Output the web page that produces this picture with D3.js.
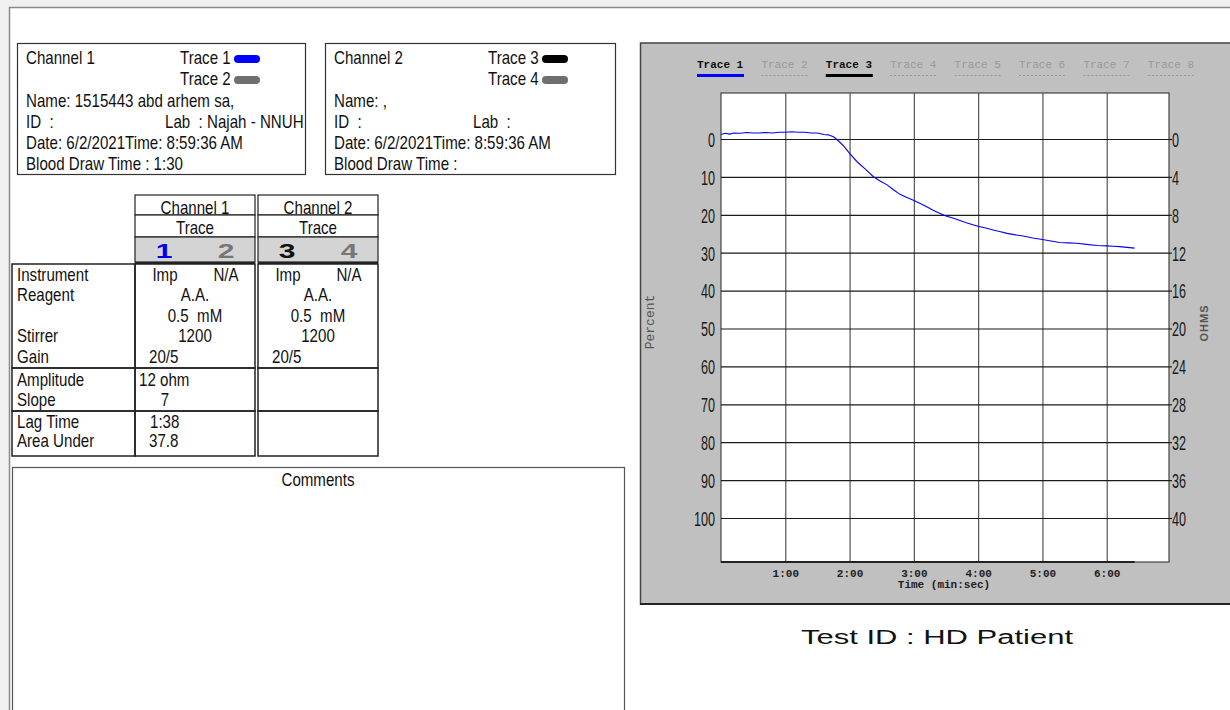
<!DOCTYPE html>
<head>
  <meta charset="utf-8">
  <title>Aggregation report</title>
  <script src="https://d3js.org/d3.v7.min.js"></script>
  <style>
    body { margin: 0; background: #f0f0f0; overflow: hidden; }
    text { font-family: "Liberation Sans", Arial, sans-serif; white-space: pre; }
    .mono { font-family: "Liberation Mono", "Courier New", monospace; }
  </style>
</head>
<body>
  <svg id="main-svg"></svg>
  <script type="text/javascript">
    // ---- data ----
    var ch1Info = ["Name: 1515443 abd arhem sa,", "ID  :", "Date: 6/2/2021Time: 8:59:36 AM", "Blood Draw Time : 1:30"];
    var ch1Lab = "Lab  : Najah - NNUH";
    var ch2Info = ["Name: ,", "ID  :", "Date: 6/2/2021Time: 8:59:36 AM", "Blood Draw Time :"];
    var ch2Lab = "Lab  :";

    var traceNames = ["Trace 1", "Trace 2", "Trace 3", "Trace 4", "Trace 5", "Trace 6", "Trace 7", "Trace 8"];
    var traceActive = [true, false, true, false, false, false, false, false];
    var traceColors = ["#0000ff", "#6e6e6e", "#000000", "#6e6e6e"];

    var rowLabels = ["Instrument", "Reagent", "", "Stirrer", "Gain", "Amplitude", "Slope", "Lag Time", "Area Under"];
    var ch1Values = [["Imp", "N/A"], "A.A.", "0.5  mM", "1200", "20/5", "12 ohm", "7", "1:38", "37.8"];
    var ch2Values = [["Imp", "N/A"], "A.A.", "0.5  mM", "1200", "20/5", "", "", "", ""];

    var percentTicks = [0, 10, 20, 30, 40, 50, 60, 70, 80, 90, 100];
    var ohmTicks = [0, 4, 8, 12, 16, 20, 24, 28, 32, 36, 40];
    var timeTicks = [60, 120, 180, 240, 300, 360];

    // trace 1, time in seconds / aggregation percent
    var traceTime = [0, 4, 8, 12, 18, 24, 30, 36, 42, 48, 54, 60, 66, 72, 78, 84, 90, 96, 100, 105,
      110, 115, 120, 127, 135, 142, 148, 155, 161, 167, 173, 179, 186, 192, 198, 204, 210, 217, 223,
      229, 235, 240, 247, 254, 260, 267, 275, 282, 291, 300, 308, 316, 324, 332, 341, 351, 360, 366,
      372, 379, 386];
    var tracePct = [-1.2, -1.5, -1.3, -1.6, -1.5, -1.7, -1.6, -1.6, -1.7, -1.6, -1.8, -1.8, -1.9, -1.8,
      -1.8, -1.6, -1.6, -1.2, -1.1, -0.6, 0.6, 2.0, 3.8, 6.0, 8.0, 9.9, 11.0, 12.1, 13.4, 14.6, 15.4,
      16.1, 17.0, 17.9, 18.8, 19.6, 20.3, 20.9, 21.5, 22.1, 22.6, 23.0, 23.5, 24.0, 24.4, 24.9, 25.3,
      25.6, 26.1, 26.5, 26.9, 27.3, 27.4, 27.5, 27.8, 28.1, 28.2, 28.3, 28.4, 28.6, 28.8];

    var testId = "Test ID : HD Patient";

    // ---- layout ----
    const svg_width = 1230;
    const svg_height = 710;
    var SX = 0.84; // the report font is condensed

    var svg = d3.select("#main-svg")
      .attr("width", svg_width)
      .attr("height", svg_height);

    function label(g, s, x, y, o) {
      o = o || {};
      var t = g.append("text")
        .attr("transform", "translate(" + x + "," + y + ") scale(" + (o.sx || SX) + ",1)")
        .attr("text-anchor", o.anchor || "start")
        .style("font-size", (o.size || 18) + "px")
        .attr("fill", o.fill || "#111")
        .text(s);
      if (o.weight) t.style("font-weight", o.weight);
      return t;
    }

    // white page
    svg.append("rect").attr("x", 10).attr("y", 7).attr("width", 1230).attr("height", 710)
      .attr("fill", "#fff");
    svg.append("path").attr("d", "M9.5,720V7.5H1240").attr("fill", "none")
      .attr("stroke", "#8a8a8a").attr("stroke-width", 1.5);

    // ---- channel info boxes ----
    function infoBox(x0, w, title, tr, lines, lab) {
      var g = svg.append("g");
      g.append("rect").attr("x", x0 + 0.5).attr("y", 43.5).attr("width", w).attr("height", 131)
        .attr("fill", "#fff").attr("stroke", "#333").attr("stroke-width", 1.2);
      label(g, title, x0 + 9, 64);
      tr.forEach(function(t, i) {
        label(g, traceNames[t], x0 + 163, 64 + i * 21);
        g.append("rect").attr("x", x0 + 217).attr("y", 55 + i * 21).attr("width", 26).attr("height", 8)
          .attr("rx", 4).attr("fill", traceColors[t]);
      });
      lines.forEach(function(s, i) {
        label(g, s, x0 + 9, 106.5 + i * 21.2);
      });
      label(g, lab, x0 + 148, 106.5 + 21.2);
    }
    infoBox(17, 288, "Channel 1", [0, 1], ch1Info, ch1Lab);
    infoBox(325, 290, "Channel 2", [2, 3], ch2Info, ch2Lab);

    // ---- parameter table ----
    var tbl = svg.append("g");
    var cols = [135, 258];
    var colW = 120;
    var rowY = [281, 301, 322, 342, 363, 386, 406, 428, 447];
    var sections = [264, 368, 411, 456];

    cols.forEach(function(cx, c) {
      tbl.append("rect").attr("x", cx).attr("y", 195).attr("width", colW).attr("height", 20)
        .attr("fill", "#fff").attr("stroke", "#222").attr("stroke-width", 1.2);
      tbl.append("rect").attr("x", cx).attr("y", 215).attr("width", colW).attr("height", 22)
        .attr("fill", "#fff").attr("stroke", "#222").attr("stroke-width", 1.2);
      tbl.append("rect").attr("x", cx).attr("y", 237).attr("width", colW).attr("height", 25)
        .attr("fill", "#d4d4d4").attr("stroke", "#222").attr("stroke-width", 1.2);
      tbl.append("line").attr("x1", cx).attr("x2", cx + colW).attr("y1", 263).attr("y2", 263)
        .attr("stroke", "#222").attr("stroke-width", 2);
      label(tbl, "Channel " + (c + 1), cx + 60, 214, { anchor: "middle" });
      label(tbl, "Trace", cx + 60, 234, { anchor: "middle" });
      [0, 1].forEach(function(k) {
        var t = c * 2 + k;
        label(tbl, String(t + 1), cx + 29 + k * 62, 258, {
          anchor: "middle", size: 20, weight: "bold", sx: 1.5,
          fill: t === 0 ? "#0000ee" : (t === 2 ? "#111" : "#777")
        });
      });
    });

    // body boxes
    [[12, 123]].concat(cols.map(function(c) { return [c, colW]; })).forEach(function(b) {
      for (var s = 0; s < sections.length - 1; s++) {
        tbl.append("rect").attr("x", b[0]).attr("y", sections[s]).attr("width", b[1])
          .attr("height", sections[s + 1] - sections[s])
          .attr("fill", "none").attr("stroke", "#222").attr("stroke-width", 1.5);
      }
    });

    rowLabels.forEach(function(s, i) {
      label(tbl, s, 17, rowY[i]);
    });

    // value placement per row: [offset from column left, anchor]
    var valuePos = [null, [60, "middle"], [60, "middle"], [60, "middle"], [14, "start"],
      [4, "start"], [30, "middle"], [15, "start"], [14, "start"]];
    [ch1Values, ch2Values].forEach(function(vals, c) {
      var cx = cols[c];
      vals.forEach(function(v, i) {
        if (i === 0) {
          label(tbl, v[0], cx + 30, rowY[i], { anchor: "middle" });
          label(tbl, v[1], cx + 91, rowY[i], { anchor: "middle" });
        } else if (v !== "") {
          label(tbl, v, cx + valuePos[i][0], rowY[i], { anchor: valuePos[i][1] });
        }
      });
    });

    // comments box
    svg.append("rect").attr("x", 12.5).attr("y", 467.5).attr("width", 612).attr("height", 260)
      .attr("fill", "#fff").attr("stroke", "#555").attr("stroke-width", 1.2);
    label(svg, "Comments", 318, 486, { anchor: "middle" });

    // ---- aggregation chart ----
    var panel = svg.append("g");
    panel.append("rect").attr("x", 640.5).attr("y", 43).attr("width", 620).attr("height", 561)
      .attr("fill", "#c0c0c0").attr("stroke", "#444").attr("stroke-width", 1.5);
    panel.append("line").attr("x1", 640).attr("x2", 1230).attr("y1", 604).attr("y2", 604)
      .attr("stroke", "#222").attr("stroke-width", 2);

    var plot = { left: 721, right: 1169, top: 93, bottom: 562 };

    var x = d3.scaleLinear().domain([0, 420]).range([plot.left, 1171]);
    var y = d3.scaleLinear().domain([0, 100]).range([139, 518]);
    var yOhm = d3.scaleLinear().domain([0, 40]).range([139, 518]);

    panel.append("rect").attr("x", plot.left).attr("y", plot.top)
      .attr("width", plot.right - plot.left).attr("height", plot.bottom - plot.top)
      .attr("fill", "#fff").attr("stroke", "#444").attr("stroke-width", 1.2);

    function fmtTime(s) {
      return Math.floor(s / 60) + ":" + d3.format("02d")(s % 60);
    }

    // vertical grid + time labels
    var xAxis = d3.axisBottom(x).tickValues(timeTicks).tickSize(-(plot.bottom - plot.top))
      .tickFormat(fmtTime);
    var gx = panel.append("g").attr("transform", "translate(0," + plot.bottom + ")").call(xAxis);
    gx.select(".domain").remove();
    gx.selectAll(".tick line").attr("stroke", "#555").attr("stroke-width", 1.2);
    gx.selectAll(".tick text").attr("class", "mono").attr("y", 15).attr("dy", 0)
      .style("font-size", "11px").style("font-weight", "bold").attr("fill", "#222");

    // horizontal grid + percent labels
    var yAxis = d3.axisLeft(y).tickValues(percentTicks).tickSize(-(plot.right - plot.left));
    var gy = panel.append("g").attr("transform", "translate(" + plot.left + ",0)").call(yAxis);
    gy.select(".domain").remove();
    gy.selectAll(".tick line").attr("stroke", "#1a1a1a").attr("stroke-width", 1.2);
    gy.selectAll(".tick text").attr("x", 0).attr("dy", "0.35em")
      .attr("transform", "translate(-6,0) scale(0.6,1)")
      .style("font-size", "21px").attr("fill", "#1a1a1a");

    // ohms labels
    var yAxisR = d3.axisRight(yOhm).tickValues(ohmTicks).tickSize(3).tickPadding(0);
    var gr = panel.append("g").attr("transform", "translate(" + plot.right + ",0)").call(yAxisR);
    gr.select(".domain").remove();
    gr.selectAll(".tick line").attr("stroke", "#1a1a1a").attr("stroke-width", 1.2);
    gr.selectAll(".tick text").attr("x", 0).attr("dy", "0.35em")
      .attr("transform", "translate(3,0) scale(0.6,1)")
      .style("font-size", "21px").attr("fill", "#1a1a1a");

    // axis titles
    panel.append("text").attr("class", "mono")
      .attr("transform", "translate(654,322) rotate(-90)")
      .attr("text-anchor", "middle").style("font-size", "13px").attr("fill", "#555")
      .text("Percent");
    panel.append("text")
      .attr("transform", "translate(1208,323) rotate(-90)")
      .attr("text-anchor", "middle").style("font-size", "11px").style("font-weight", "bold")
      .style("letter-spacing", "1px").attr("fill", "#555")
      .text("OHMS");
    panel.append("text").attr("class", "mono")
      .attr("x", 944).attr("y", 588).attr("text-anchor", "middle")
      .style("font-size", "11px").style("font-weight", "bold").attr("fill", "#222")
      .text("Time (min:sec)");

    // thick time axis under the recorded span
    panel.append("line")
      .attr("x1", x(0)).attr("x2", x(d3.max(traceTime)))
      .attr("y1", plot.bottom).attr("y2", plot.bottom)
      .attr("stroke", "#222").attr("stroke-width", 2);

    // trace 1 curve
    var line = d3.line()
      .x(function(d, i) { return x(traceTime[i]); })
      .y(function(d) { return y(d); });
    panel.append("path").datum(tracePct)
      .attr("d", line).attr("fill", "none")
      .attr("stroke", traceColors[0]).attr("stroke-width", 1.1);

    // trace legend
    var legend = panel.selectAll(".legend")
      .data(traceNames)
      .enter().append("g")
      .attr("class", "legend")
      .attr("transform", function(d, i) { return "translate(" + (697 + i * 64.4) + ",0)"; });
    legend.append("text").attr("class", "mono")
      .attr("y", 68)
      .style("font-size", "11px")
      .style("font-weight", function(d, i) { return traceActive[i] ? "bold" : "normal"; })
      .attr("fill", function(d, i) { return traceActive[i] ? "#111" : "#999"; })
      .text(function(d) { return d; });
    legend.append("line")
      .attr("x1", 0).attr("x2", 47).attr("y1", 75.5).attr("y2", 75.5)
      .attr("stroke", function(d, i) { return traceActive[i] ? traceColors[i] : "#999"; })
      .attr("stroke-width", function(d, i) { return traceActive[i] ? 3 : 1; })
      .attr("stroke-dasharray", function(d, i) { return traceActive[i] ? null : "2,2"; });

    // test id caption
    svg.append("text")
      .attr("x", 801).attr("y", 644)
      .attr("textLength", 272).attr("lengthAdjust", "spacingAndGlyphs")
      .style("font-size", "20px").attr("fill", "#111")
      .text(testId);
  </script>
</body>
